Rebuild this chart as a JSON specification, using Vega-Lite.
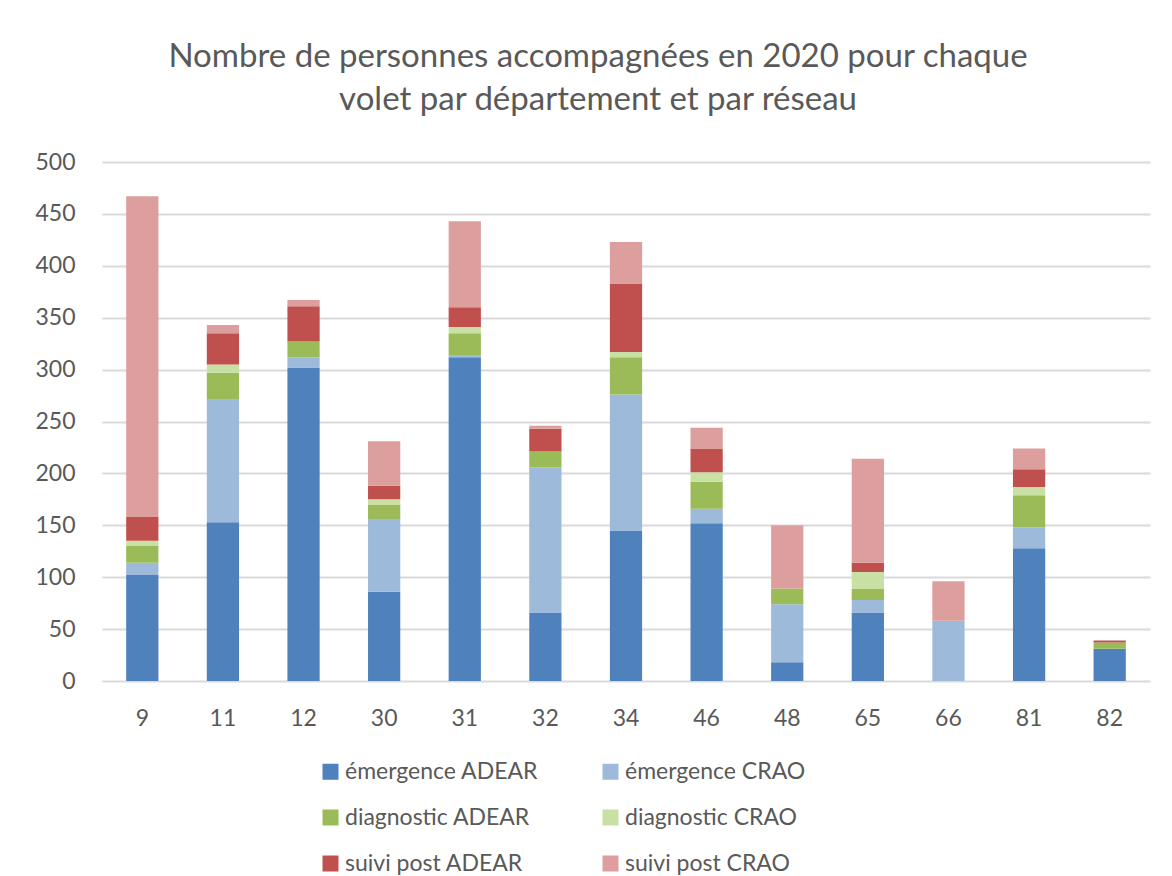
{
  "$schema": "https://vega.github.io/schema/vega-lite/v6.json",
  "autosize": "none",
  "width": 1048,
  "height": 519,
  "padding": {"left": 102, "top": 162, "right": 22, "bottom": 195},
  "background": "white",
  "config": {
    "font": "Lato",
    "view": {"stroke": null},
    "axis": {"labelColor": "#595959", "labelFont": "Lato", "labelFontSize": 23, "domain": false, "ticks": false, "title": null},
    "legend": {"labelColor": "#595959", "labelFont": "Lato", "labelFontSize": 23, "labelLimit": 500}
  },
  "title": {
    "text": ["Nombre de personnes accompagnées en 2020 pour chaque", "volet par département et par réseau"],
    "font": "Lato",
    "fontSize": 33,
    "fontWeight": "normal",
    "color": "#595959",
    "anchor": "middle",
    "dx": -28,
    "offset": 8,
    "lineHeight": 43,
    "baseline": "alphabetic"
  },
  "data": {
    "values": [
      {"dep": 9, "volet": "émergence ADEAR", "rang": 1, "n": 102},
      {"dep": 9, "volet": "émergence CRAO", "rang": 2, "n": 12},
      {"dep": 9, "volet": "diagnostic ADEAR", "rang": 3, "n": 16},
      {"dep": 9, "volet": "diagnostic CRAO", "rang": 4, "n": 5},
      {"dep": 9, "volet": "suivi post ADEAR", "rang": 5, "n": 23},
      {"dep": 9, "volet": "suivi post CRAO", "rang": 6, "n": 309},
      {"dep": 11, "volet": "émergence ADEAR", "rang": 1, "n": 153},
      {"dep": 11, "volet": "émergence CRAO", "rang": 2, "n": 118},
      {"dep": 11, "volet": "diagnostic ADEAR", "rang": 3, "n": 26},
      {"dep": 11, "volet": "diagnostic CRAO", "rang": 4, "n": 8},
      {"dep": 11, "volet": "suivi post ADEAR", "rang": 5, "n": 30},
      {"dep": 11, "volet": "suivi post CRAO", "rang": 6, "n": 8},
      {"dep": 12, "volet": "émergence ADEAR", "rang": 1, "n": 302},
      {"dep": 12, "volet": "émergence CRAO", "rang": 2, "n": 10},
      {"dep": 12, "volet": "diagnostic ADEAR", "rang": 3, "n": 15},
      {"dep": 12, "volet": "diagnostic CRAO", "rang": 4, "n": 0},
      {"dep": 12, "volet": "suivi post ADEAR", "rang": 5, "n": 34},
      {"dep": 12, "volet": "suivi post CRAO", "rang": 6, "n": 6},
      {"dep": 30, "volet": "émergence ADEAR", "rang": 1, "n": 86},
      {"dep": 30, "volet": "émergence CRAO", "rang": 2, "n": 70},
      {"dep": 30, "volet": "diagnostic ADEAR", "rang": 3, "n": 14},
      {"dep": 30, "volet": "diagnostic CRAO", "rang": 4, "n": 5},
      {"dep": 30, "volet": "suivi post ADEAR", "rang": 5, "n": 13},
      {"dep": 30, "volet": "suivi post CRAO", "rang": 6, "n": 43},
      {"dep": 31, "volet": "émergence ADEAR", "rang": 1, "n": 312},
      {"dep": 31, "volet": "émergence CRAO", "rang": 2, "n": 2},
      {"dep": 31, "volet": "diagnostic ADEAR", "rang": 3, "n": 21},
      {"dep": 31, "volet": "diagnostic CRAO", "rang": 4, "n": 6},
      {"dep": 31, "volet": "suivi post ADEAR", "rang": 5, "n": 19},
      {"dep": 31, "volet": "suivi post CRAO", "rang": 6, "n": 83},
      {"dep": 32, "volet": "émergence ADEAR", "rang": 1, "n": 66},
      {"dep": 32, "volet": "émergence CRAO", "rang": 2, "n": 140},
      {"dep": 32, "volet": "diagnostic ADEAR", "rang": 3, "n": 15},
      {"dep": 32, "volet": "diagnostic CRAO", "rang": 4, "n": 0},
      {"dep": 32, "volet": "suivi post ADEAR", "rang": 5, "n": 22},
      {"dep": 32, "volet": "suivi post CRAO", "rang": 6, "n": 3},
      {"dep": 34, "volet": "émergence ADEAR", "rang": 1, "n": 145},
      {"dep": 34, "volet": "émergence CRAO", "rang": 2, "n": 131},
      {"dep": 34, "volet": "diagnostic ADEAR", "rang": 3, "n": 36},
      {"dep": 34, "volet": "diagnostic CRAO", "rang": 4, "n": 5},
      {"dep": 34, "volet": "suivi post ADEAR", "rang": 5, "n": 66},
      {"dep": 34, "volet": "suivi post CRAO", "rang": 6, "n": 40},
      {"dep": 46, "volet": "émergence ADEAR", "rang": 1, "n": 152},
      {"dep": 46, "volet": "émergence CRAO", "rang": 2, "n": 14},
      {"dep": 46, "volet": "diagnostic ADEAR", "rang": 3, "n": 26},
      {"dep": 46, "volet": "diagnostic CRAO", "rang": 4, "n": 9},
      {"dep": 46, "volet": "suivi post ADEAR", "rang": 5, "n": 23},
      {"dep": 46, "volet": "suivi post CRAO", "rang": 6, "n": 20},
      {"dep": 48, "volet": "émergence ADEAR", "rang": 1, "n": 18},
      {"dep": 48, "volet": "émergence CRAO", "rang": 2, "n": 56},
      {"dep": 48, "volet": "diagnostic ADEAR", "rang": 3, "n": 15},
      {"dep": 48, "volet": "diagnostic CRAO", "rang": 4, "n": 0},
      {"dep": 48, "volet": "suivi post ADEAR", "rang": 5, "n": 0},
      {"dep": 48, "volet": "suivi post CRAO", "rang": 6, "n": 61},
      {"dep": 65, "volet": "émergence ADEAR", "rang": 1, "n": 66},
      {"dep": 65, "volet": "émergence CRAO", "rang": 2, "n": 12},
      {"dep": 65, "volet": "diagnostic ADEAR", "rang": 3, "n": 11},
      {"dep": 65, "volet": "diagnostic CRAO", "rang": 4, "n": 16},
      {"dep": 65, "volet": "suivi post ADEAR", "rang": 5, "n": 9},
      {"dep": 65, "volet": "suivi post CRAO", "rang": 6, "n": 100},
      {"dep": 66, "volet": "émergence ADEAR", "rang": 1, "n": 0},
      {"dep": 66, "volet": "émergence CRAO", "rang": 2, "n": 58},
      {"dep": 66, "volet": "diagnostic ADEAR", "rang": 3, "n": 0},
      {"dep": 66, "volet": "diagnostic CRAO", "rang": 4, "n": 0},
      {"dep": 66, "volet": "suivi post ADEAR", "rang": 5, "n": 0},
      {"dep": 66, "volet": "suivi post CRAO", "rang": 6, "n": 38},
      {"dep": 81, "volet": "émergence ADEAR", "rang": 1, "n": 128},
      {"dep": 81, "volet": "émergence CRAO", "rang": 2, "n": 20},
      {"dep": 81, "volet": "diagnostic ADEAR", "rang": 3, "n": 31},
      {"dep": 81, "volet": "diagnostic CRAO", "rang": 4, "n": 8},
      {"dep": 81, "volet": "suivi post ADEAR", "rang": 5, "n": 17},
      {"dep": 81, "volet": "suivi post CRAO", "rang": 6, "n": 20},
      {"dep": 82, "volet": "émergence ADEAR", "rang": 1, "n": 31},
      {"dep": 82, "volet": "émergence CRAO", "rang": 2, "n": 0},
      {"dep": 82, "volet": "diagnostic ADEAR", "rang": 3, "n": 6},
      {"dep": 82, "volet": "diagnostic CRAO", "rang": 4, "n": 0},
      {"dep": 82, "volet": "suivi post ADEAR", "rang": 5, "n": 2},
      {"dep": 82, "volet": "suivi post CRAO", "rang": 6, "n": 0}
    ]
  },
  "mark": {"type": "bar"},
  "encoding": {
    "x": {
      "field": "dep",
      "type": "ordinal",
      "scale": {"paddingInner": 0.6, "paddingOuter": 0.3},
      "axis": {"labelAngle": 0, "labelPadding": 26, "grid": false}
    },
    "y": {
      "field": "n",
      "type": "quantitative",
      "stack": "zero",
      "scale": {"domain": [0, 500], "nice": false},
      "axis": {"values": [0, 50, 100, 150, 200, 250, 300, 350, 400, 450, 500], "grid": true, "gridColor": "#D9D9D9", "gridWidth": 2, "labelPadding": 27}
    },
    "order": {"field": "rang", "type": "quantitative"},
    "color": {
      "field": "volet",
      "type": "nominal",
      "scale": {
        "domain": ["émergence ADEAR", "émergence CRAO", "diagnostic ADEAR", "diagnostic CRAO", "suivi post ADEAR", "suivi post CRAO"],
        "range": ["#4F81BD", "#9EBADB", "#9BBB59", "#C8E0A4", "#C0504D", "#DC9F9D"]
      },
      "legend": {
        "title": null,
        "orient": "none",
        "legendX": 217,
        "legendY": 598,
        "columns": 2,
        "direction": "horizontal",
        "symbolType": "square",
        "symbolSize": 256,
        "symbolStrokeWidth": 0,
        "labelOffset": 3,
        "rowPadding": 22,
        "columnPadding": 60
      }
    }
  }
}
